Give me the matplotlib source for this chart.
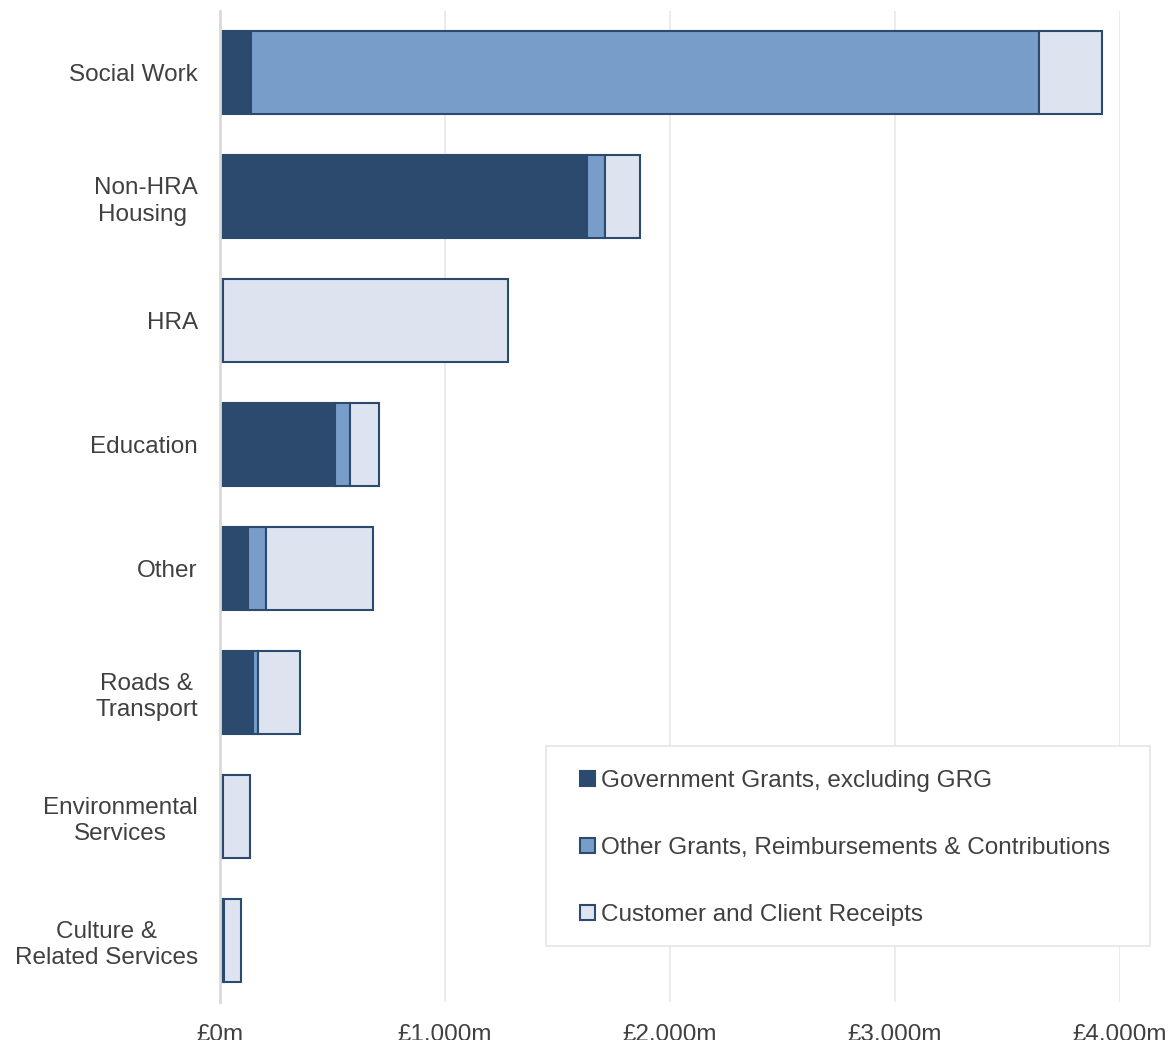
import matplotlib
matplotlib.use("Agg")
import matplotlib.pyplot as plt
from matplotlib.patches import Rectangle
import numpy as np

categories = ["Social Work", "Non-HRA\nHousing ", "HRA", "Education", "Other",
              "Roads &\nTransport", "Environmental\nServices", "Culture &\nRelated Services"]
gov_grants = [138, 1631, 13, 511, 123, 148, 10, 14]
other_grants = [3503, 80, 2, 67, 80, 22, 2, 3]
customer = [278, 156, 1265, 129, 477, 186, 121, 78]
series_names = ["Government Grants, excluding GRG",
                "Other Grants, Reimbursements & Contributions",
                "Customer and Client Receipts"]
xticks = [0, 1000, 2000, 3000, 4000]
xticklabels = ["£0m", "£1,000m", "£2,000m", "£3,000m", "£4,000m"]

colors = ["#2c4a6e", "#799dc9", "#dde4f0"]
edge = "#2c4a6e"
txt = "#404040"

plt.rcParams['font.family'] = ['Liberation Sans', 'DejaVu Sans']

W, H = 1176, 1040
fig = plt.figure(figsize=(W / 100, H / 100), dpi=100)
ax = fig.add_axes([220/W, 1-1002/H, 900/W, 991/H])

y = np.arange(len(categories))
left = np.zeros(len(categories))
for vals, c, name in zip([gov_grants, other_grants, customer], colors, series_names):
    ax.barh(y, vals, left=left, height=0.67, color=c, edgecolor=edge,
            linewidth=1.5, label=name, zorder=3)
    left += np.array(vals)

ax.set_ylim(len(categories) - 0.5, -0.5)
ax.set_xlim(0, 4000)
ax.set_yticks(y)
ax.set_yticklabels(categories, fontsize=17.5, color=txt, multialignment='center',
                   linespacing=1.25)
ax.set_xticks(xticks)
ax.set_xticklabels(xticklabels, fontsize=17.5, color=txt)
ax.tick_params(axis='both', length=0)
ax.tick_params(axis='x', pad=16)
ax.tick_params(axis='y', pad=16)
ax.grid(axis='x', color='#e8e8e8', linewidth=1.2, zorder=0)
for s in ['top', 'right', 'bottom']:
    ax.spines[s].set_visible(False)
ax.spines['left'].set_color('#d9d9d9')
ax.spines['left'].set_linewidth(2)
ax.spines['left'].set_zorder(4)

# legend frame drawn separately
frame = Rectangle((546/W, 1-946/H), (1150-546)/W, 200/H, transform=fig.transFigure,
                  facecolor='white', edgecolor='#e6e6e6', linewidth=1.2, zorder=7,
                  clip_on=False)
ax.add_patch(frame)

leg = ax.legend(loc='upper left', bbox_to_anchor=(580/W, 1-770/H),
                bbox_transform=fig.transFigure, borderaxespad=0, borderpad=0,
                fontsize=17.5, frameon=False, handlelength=0.6,
                handleheight=0.6, handletextpad=0.25, labelspacing=1.85)
leg.set_zorder(8)
for t in leg.get_texts():
    t.set_color(txt)

fig.savefig("out.png", dpi=100, facecolor='white')
